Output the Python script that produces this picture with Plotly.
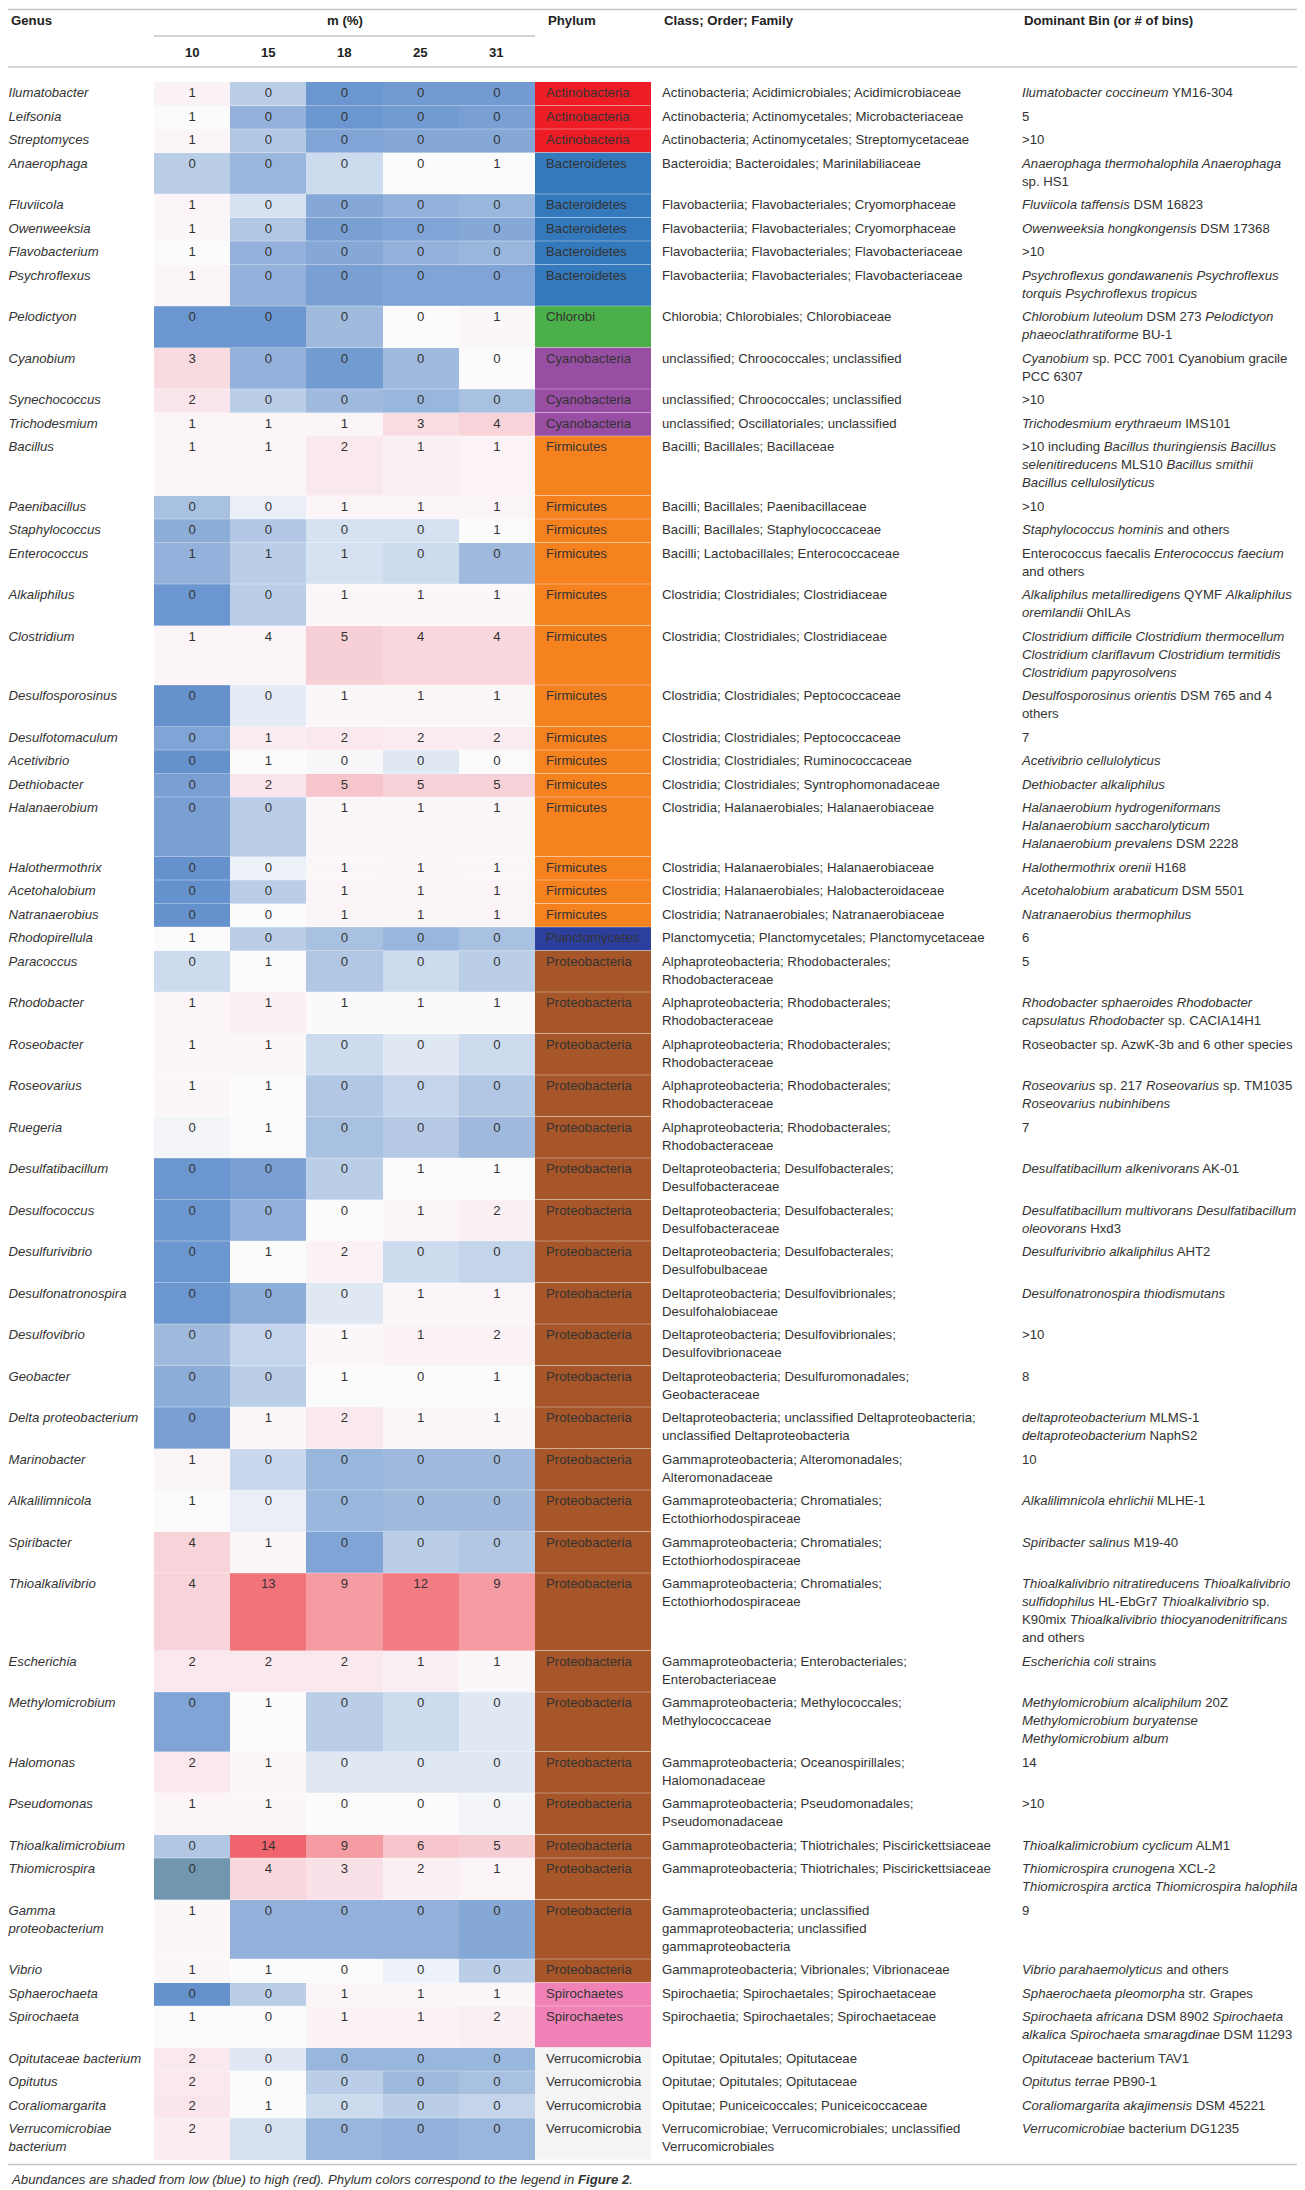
import plotly.graph_objects as go

# ---- data -------------------------------------------------------------
genus = ["Ilumatobacter", "Leifsonia", "Streptomyces", "Anaerophaga", "Fluviicola",
         "Owenweeksia", "Flavobacterium", "Psychroflexus", "Pelodictyon", "Cyanobium",
         "Synechococcus", "Trichodesmium", "Bacillus", "Paenibacillus", "Staphylococcus",
         "Enterococcus", "Alkaliphilus", "Clostridium", "Desulfosporosinus", "Desulfotomaculum",
         "Acetivibrio", "Dethiobacter", "Halanaerobium", "Halothermothrix", "Acetohalobium",
         "Natranaerobius", "Rhodopirellula", "Paracoccus", "Rhodobacter", "Roseobacter",
         "Roseovarius", "Ruegeria", "Desulfatibacillum", "Desulfococcus", "Desulfurivibrio",
         "Desulfonatronospira", "Desulfovibrio", "Geobacter", "Delta proteobacterium", "Marinobacter",
         "Alkalilimnicola", "Spiribacter", "Thioalkalivibrio", "Escherichia", "Methylomicrobium",
         "Halomonas", "Pseudomonas", "Thioalkalimicrobium", "Thiomicrospira", "Gamma\nproteobacterium",
         "Vibrio", "Sphaerochaeta", "Spirochaeta", "Opitutaceae bacterium", "Opitutus",
         "Coraliomargarita", "Verrucomicrobiae\nbacterium"]

m_labels = ["10", "15", "18", "25", "31"]

# abundance values (%) per m column
m10 = [1, 1, 1, 0, 1, 1, 1, 1, 0, 3, 2, 1, 1, 0, 0, 1, 0, 1, 0, 0,
       0, 0, 0, 0, 0, 0, 1, 0, 1, 1, 1, 0, 0, 0, 0, 0, 0, 0, 0, 1,
       1, 4, 4, 2, 0, 2, 1, 0, 0, 1, 1, 0, 1, 2, 2, 2, 2]
m15 = [0, 0, 0, 0, 0, 0, 0, 0, 0, 0, 0, 1, 1, 0, 0, 1, 0, 4, 0, 1,
       1, 2, 0, 0, 0, 0, 0, 1, 1, 1, 1, 1, 0, 0, 1, 0, 0, 0, 1, 0,
       0, 1, 13, 2, 1, 1, 1, 14, 4, 0, 1, 0, 0, 0, 0, 1, 0]
m18 = [0, 0, 0, 0, 0, 0, 0, 0, 0, 0, 0, 1, 2, 1, 0, 1, 1, 5, 1, 2,
       0, 5, 1, 1, 1, 1, 0, 0, 1, 0, 0, 0, 0, 0, 2, 0, 1, 1, 2, 0,
       0, 0, 9, 2, 0, 0, 0, 9, 3, 0, 0, 1, 1, 0, 0, 0, 0]
m25 = [0, 0, 0, 0, 0, 0, 0, 0, 0, 0, 0, 3, 1, 1, 0, 0, 1, 4, 1, 2,
       0, 5, 1, 1, 1, 1, 0, 0, 1, 0, 0, 0, 1, 1, 0, 1, 1, 0, 1, 0,
       0, 0, 12, 1, 0, 0, 0, 6, 2, 0, 0, 1, 1, 0, 0, 0, 0]
m31 = [0, 0, 0, 1, 0, 0, 0, 0, 1, 0, 0, 4, 1, 1, 1, 0, 1, 4, 1, 2,
       0, 5, 1, 1, 1, 1, 0, 0, 1, 0, 0, 0, 1, 2, 0, 1, 2, 1, 1, 0,
       0, 0, 9, 1, 0, 0, 0, 5, 1, 0, 0, 1, 2, 0, 0, 0, 0]

# shading (low = blue, high = red)
s10 = [0.05, 0.0, 0.03, -0.35, 0.03, 0.02, 0.0, 0.03, -0.9, 0.2,
       0.12, 0.03, 0.03, -0.45, -0.65, -0.6, -0.9, 0.03, -0.95, -0.75,
       -0.95, -0.8, -0.8, -0.95, -0.95, -0.95, 0.0, -0.25, 0.03, 0.02,
       0.02, -0.05, -0.9, -0.9, -0.9, -0.9, -0.5, -0.65, -0.8, 0.03,
       0.0, 0.25, 0.25, 0.1, -0.75, 0.1, 0.03, -0.4, -1.2, 0.02,
       0.02, -0.95, 0.0, 0.1, 0.1, 0.12, 0.08]
s15 = [-0.35, -0.6, -0.4, -0.55, -0.2, -0.4, -0.6, -0.6, -0.9, -0.6,
       -0.35, 0.03, 0.03, -0.1, -0.4, -0.35, -0.35, 0.03, -0.12, 0.08,
       0.0, 0.12, -0.35, -0.08, -0.35, 0.0, -0.35, 0.0, 0.06, 0.02,
       0.0, 0.0, -0.8, -0.6, 0.0, -0.65, -0.3, -0.35, 0.02, -0.27,
       -0.1, 0.02, 0.9, 0.1, 0.0, 0.02, 0.02, 1.0, 0.22, -0.6,
       0.0, -0.35, 0.0, -0.15, 0.0, 0.0, -0.2]
s18 = [-0.9, -0.9, -0.75, -0.25, -0.7, -0.8, -0.7, -0.8, -0.5, -0.85,
       -0.5, 0.03, 0.1, 0.03, -0.2, -0.2, 0.02, 0.28, 0.02, 0.1,
       -0.02, 0.35, 0.02, 0.02, 0.03, 0.03, -0.45, -0.4, 0.01, -0.25,
       -0.4, -0.45, -0.35, 0.0, 0.05, -0.15, 0.02, 0.0, 0.1, -0.55,
       -0.55, -0.75, 0.65, 0.1, -0.35, -0.15, 0.0, 0.65, 0.15, -0.6,
       0.0, 0.03, 0.05, -0.55, -0.35, -0.25, -0.55]
s25 = [-0.85, -0.85, -0.7, 0.0, -0.6, -0.75, -0.6, -0.75, 0.0, -0.5,
       -0.55, 0.18, 0.06, 0.03, -0.2, -0.25, 0.02, 0.22, 0.02, 0.08,
       -0.15, 0.27, 0.02, 0.03, 0.03, 0.03, -0.55, -0.25, 0.01, -0.15,
       -0.3, -0.38, 0.0, 0.03, -0.25, 0.02, 0.05, 0.0, 0.02, -0.5,
       -0.5, -0.35, 0.85, 0.06, -0.25, -0.15, 0.0, 0.35, 0.06, -0.6,
       -0.08, 0.02, 0.05, -0.55, -0.5, -0.35, -0.6]
s31 = [-0.85, -0.8, -0.7, 0.0, -0.55, -0.7, -0.55, -0.75, 0.02, 0.0,
       -0.45, 0.25, 0.04, 0.03, 0.0, -0.5, 0.02, 0.22, 0.02, 0.08,
       0.0, 0.27, 0.02, 0.02, 0.03, 0.03, -0.45, -0.35, 0.01, -0.25,
       -0.4, -0.5, 0.0, 0.06, -0.3, 0.03, 0.05, 0.0, 0.02, -0.5,
       -0.5, -0.4, 0.65, 0.02, -0.15, -0.15, -0.05, 0.3, 0.03, -0.7,
       -0.35, 0.02, 0.06, -0.55, -0.45, -0.3, -0.55]

phylum = (["Actinobacteria"] * 3 + ["Bacteroidetes"] * 5 + ["Chlorobi"] +
          ["Cyanobacteria"] * 3 + ["Firmicutes"] * 14 + ["Planctomycetes"] +
          ["Proteobacteria"] * 24 + ["Spirochaetes"] * 2 + ["Verrucomicrobia"] * 4)

phylum_colors = {
    "Actinobacteria": "#ee1c25", "Bacteroidetes": "#3479bb", "Chlorobi": "#4bb04a",
    "Cyanobacteria": "#984ea3", "Firmicutes": "#f6821f", "Planctomycetes": "#2d3f9d",
    "Proteobacteria": "#a65628", "Spirochaetes": "#f082b8", "Verrucomicrobia": "#f4f4f4",
}

alpha = "Alphaproteobacteria; Rhodobacterales;\nRhodobacteraceae"
chrom = "Gammaproteobacteria; Chromatiales;\nEctothiorhodospiraceae"
class_order_family = [
    "Actinobacteria; Acidimicrobiales; Acidimicrobiaceae",
    "Actinobacteria; Actinomycetales; Microbacteriaceae",
    "Actinobacteria; Actinomycetales; Streptomycetaceae",
    "Bacteroidia; Bacteroidales; Marinilabiliaceae",
    "Flavobacteriia; Flavobacteriales; Cryomorphaceae",
    "Flavobacteriia; Flavobacteriales; Cryomorphaceae",
    "Flavobacteriia; Flavobacteriales; Flavobacteriaceae",
    "Flavobacteriia; Flavobacteriales; Flavobacteriaceae",
    "Chlorobia; Chlorobiales; Chlorobiaceae",
    "unclassified; Chroococcales; unclassified",
    "unclassified; Chroococcales; unclassified",
    "unclassified; Oscillatoriales; unclassified",
    "Bacilli; Bacillales; Bacillaceae",
    "Bacilli; Bacillales; Paenibacillaceae",
    "Bacilli; Bacillales; Staphylococcaceae",
    "Bacilli; Lactobacillales; Enterococcaceae",
    "Clostridia; Clostridiales; Clostridiaceae",
    "Clostridia; Clostridiales; Clostridiaceae",
    "Clostridia; Clostridiales; Peptococcaceae",
    "Clostridia; Clostridiales; Peptococcaceae",
    "Clostridia; Clostridiales; Ruminococcaceae",
    "Clostridia; Clostridiales; Syntrophomonadaceae",
    "Clostridia; Halanaerobiales; Halanaerobiaceae",
    "Clostridia; Halanaerobiales; Halanaerobiaceae",
    "Clostridia; Halanaerobiales; Halobacteroidaceae",
    "Clostridia; Natranaerobiales; Natranaerobiaceae",
    "Planctomycetia; Planctomycetales; Planctomycetaceae",
    alpha, alpha, alpha, alpha, alpha,
    "Deltaproteobacteria; Desulfobacterales;\nDesulfobacteraceae",
    "Deltaproteobacteria; Desulfobacterales;\nDesulfobacteraceae",
    "Deltaproteobacteria; Desulfobacterales;\nDesulfobulbaceae",
    "Deltaproteobacteria; Desulfovibrionales;\nDesulfohalobiaceae",
    "Deltaproteobacteria; Desulfovibrionales;\nDesulfovibrionaceae",
    "Deltaproteobacteria; Desulfuromonadales;\nGeobacteraceae",
    "Deltaproteobacteria; unclassified Deltaproteobacteria;\nunclassified Deltaproteobacteria",
    "Gammaproteobacteria; Alteromonadales;\nAlteromonadaceae",
    chrom, chrom, chrom,
    "Gammaproteobacteria; Enterobacteriales;\nEnterobacteriaceae",
    "Gammaproteobacteria; Methylococcales;\nMethylococcaceae",
    "Gammaproteobacteria; Oceanospirillales;\nHalomonadaceae",
    "Gammaproteobacteria; Pseudomonadales;\nPseudomonadaceae",
    "Gammaproteobacteria; Thiotrichales; Piscirickettsiaceae",
    "Gammaproteobacteria; Thiotrichales; Piscirickettsiaceae",
    "Gammaproteobacteria; unclassified\ngammaproteobacteria; unclassified\ngammaproteobacteria",
    "Gammaproteobacteria; Vibrionales; Vibrionaceae",
    "Spirochaetia; Spirochaetales; Spirochaetaceae",
    "Spirochaetia; Spirochaetales; Spirochaetaceae",
    "Opitutae; Opitutales; Opitutaceae",
    "Opitutae; Opitutales; Opitutaceae",
    "Opitutae; Puniceicoccales; Puniceicoccaceae",
    "Verrucomicrobiae; Verrucomicrobiales; unclassified\nVerrucomicrobiales",
]

dominant_bin = [
    "<i>Ilumatobacter coccineum</i> YM16-304",
    "5",
    ">10",
    "<i>Anaerophaga thermohalophila Anaerophaga</i>\nsp. HS1",
    "<i>Fluviicola taffensis</i> DSM 16823",
    "<i>Owenweeksia hongkongensis</i> DSM 17368",
    ">10",
    "<i>Psychroflexus gondawanenis Psychroflexus</i>\n<i>torquis Psychroflexus tropicus</i>",
    "<i>Chlorobium luteolum</i> DSM 273 <i>Pelodictyon</i>\n<i>phaeoclathratiforme</i> BU-1",
    "<i>Cyanobium</i> sp. PCC 7001 Cyanobium gracile\nPCC 6307",
    ">10",
    "<i>Trichodesmium erythraeum</i> IMS101",
    ">10 including <i>Bacillus thuringiensis Bacillus</i>\n<i>selenitireducens</i> MLS10 <i>Bacillus smithii</i>\n<i>Bacillus cellulosilyticus</i>",
    ">10",
    "<i>Staphylococcus hominis</i> and others",
    "Enterococcus faecalis <i>Enterococcus faecium</i>\nand others",
    "<i>Alkaliphilus metalliredigens</i> QYMF <i>Alkaliphilus</i>\n<i>oremlandii</i> OhILAs",
    "<i>Clostridium difficile Clostridium thermocellum</i>\n<i>Clostridium clariflavum Clostridium termitidis</i>\n<i>Clostridium papyrosolvens</i>",
    "<i>Desulfosporosinus orientis</i> DSM 765 and 4\nothers",
    "7",
    "<i>Acetivibrio cellulolyticus</i>",
    "<i>Dethiobacter alkaliphilus</i>",
    "<i>Halanaerobium hydrogeniformans</i>\n<i>Halanaerobium saccharolyticum</i>\n<i>Halanaerobium prevalens</i> DSM 2228",
    "<i>Halothermothrix orenii</i> H168",
    "<i>Acetohalobium arabaticum</i> DSM 5501",
    "<i>Natranaerobius thermophilus</i>",
    "6",
    "5",
    "<i>Rhodobacter sphaeroides Rhodobacter</i>\n<i>capsulatus Rhodobacter</i> sp. CACIA14H1",
    "Roseobacter sp. AzwK-3b and 6 other species",
    "<i>Roseovarius</i> sp. 217 <i>Roseovarius</i> sp. TM1035\n<i>Roseovarius nubinhibens</i>",
    "7",
    "<i>Desulfatibacillum alkenivorans</i> AK-01",
    "<i>Desulfatibacillum multivorans Desulfatibacillum</i>\n<i>oleovorans</i> Hxd3",
    "<i>Desulfurivibrio alkaliphilus</i> AHT2",
    "<i>Desulfonatronospira thiodismutans</i>",
    ">10",
    "8",
    "<i>deltaproteobacterium</i> MLMS-1\n<i>deltaproteobacterium</i> NaphS2",
    "10",
    "<i>Alkalilimnicola ehrlichii</i> MLHE-1",
    "<i>Spiribacter salinus</i> M19-40",
    "<i>Thioalkalivibrio nitratireducens Thioalkalivibrio</i>\n<i>sulfidophilus</i> HL-EbGr7 <i>Thioalkalivibrio</i> sp.\nK90mix <i>Thioalkalivibrio thiocyanodenitrificans</i>\nand others",
    "<i>Escherichia coli</i> strains",
    "<i>Methylomicrobium alcaliphilum</i> 20Z\n<i>Methylomicrobium buryatense</i>\n<i>Methylomicrobium album</i>",
    "14",
    ">10",
    "<i>Thioalkalimicrobium cyclicum</i> ALM1",
    "<i>Thiomicrospira crunogena</i> XCL-2\n<i>Thiomicrospira arctica Thiomicrospira halophila</i>",
    "9",
    "<i>Vibrio parahaemolyticus</i> and others",
    "<i>Sphaerochaeta pleomorpha</i> str. Grapes",
    "<i>Spirochaeta africana</i> DSM 8902 <i>Spirochaeta</i>\n<i>alkalica Spirochaeta smaragdinae</i> DSM 11293",
    "<i>Opitutaceae</i> bacterium TAV1",
    "<i>Opitutus terrae</i> PB90-1",
    "<i>Coraliomargarita akajimensis</i> DSM 45221",
    "<i>Verrucomicrobiae</i> bacterium DG1235",
]

footnote = ("<i>Abundances are shaded from low (blue) to high (red). Phylum colors "
            "correspond to the legend in <b>Figure 2</b>.</i>")

# ---- layout constants -------------------------------------------------
# the page body has an 8px margin, so the figure is drawn 8px smaller and
# the axes run in page pixels from 8 to the window edge
W, H = 1305, 2190
OFF = 8
FONT = "Liberation Sans, Arial, Helvetica, sans-serif"
TXT = "#333333"
FS = 13.2
RULE = "#c6c6c6"

body_top = 82
line_h = 18.0
pad = 5.5
first_off = pad / 2 + line_h / 2

x_genus = 8.5
x_val0, col_w = 154, 76.2
x_phy0, x_phy1 = x_val0 + 5 * col_w, 651
x_phy_txt = 546
x_class = 662
x_bin = 1022

values = [m10, m15, m18, m25, m31]
shades = [s10, s15, s18, s25, s31]
n = len(genus)

# row heights follow the number of wrapped lines in the row
n_lines = [max(len(genus[i].split("\n")), len(class_order_family[i].split("\n")),
               len(dominant_bin[i].split("\n"))) for i in range(n)]
edges = [body_top]
for k in n_lines:
    edges.append(edges[-1] + pad + k * line_h)

col_edges = [x_val0 + j * col_w for j in range(6)]
col_mid = [x_val0 + (j + 0.5) * col_w for j in range(5)]

z = [[shades[j][i] for j in range(5)] for i in range(n)]

zmin, zmax = -1.2, 1.0


def nz(v):
    return (v - zmin) / (zmax - zmin)


colorscale = [
    [0.0, "rgb(112,150,176)"],
    [nz(-1.08), "rgb(84,134,200)"],
    [nz(-0.5), "rgb(160,186,222)"],
    [nz(-0.2), "rgb(214,225,241)"],
    [nz(0.0), "rgb(252,251,252)"],
    [nz(0.1), "rgb(249,232,237)"],
    [nz(0.3), "rgb(247,205,212)"],
    [nz(0.65), "rgb(245,155,162)"],
    [1.0, "rgb(240,100,110)"],
]

fig = go.Figure()

fig.add_trace(go.Heatmap(
    z=z, x=col_edges, y=edges, zmin=zmin, zmax=zmax,
    colorscale=colorscale, showscale=False, hoverinfo="skip",
))


def line_points(texts, x0, italic=False):
    xs, ys, ts = [], [], []
    for i, t in enumerate(texts):
        for k, ln in enumerate(t.split("\n")):
            xs.append(x0)
            ys.append(edges[i] + first_off + k * line_h)
            ts.append("<i>%s</i>" % ln if italic else ln)
    return xs, ys, ts


def text_trace(xs, ys, ts, pos="middle right"):
    return go.Scatter(x=xs, y=ys, text=ts, mode="text", textposition=pos,
                      textfont=dict(family=FONT, size=FS, color=TXT),
                      hoverinfo="skip", showlegend=False, cliponaxis=False)


# phylum colour blocks
for i, p in enumerate(phylum):
    fig.add_shape(type="rect", xref="x", yref="y", x0=x_phy0, x1=x_phy1,
                  y0=edges[i], y1=edges[i + 1], line_width=0,
                  fillcolor=phylum_colors[p], layer="below")

# faint row separators inside the shaded block
for e in edges[1:-1]:
    fig.add_shape(type="line", xref="x", yref="y", x0=x_val0, x1=x_phy1, y0=e, y1=e,
                  line=dict(color="rgba(255,255,255,0.35)", width=1))

fig.add_trace(text_trace(*line_points(genus, x_genus, italic=True)))

vx, vy, vt = [], [], []
for j in range(5):
    for i in range(n):
        vx.append(col_mid[j])
        vy.append(edges[i] + first_off)
        vt.append(str(values[j][i]))
fig.add_trace(text_trace(vx, vy, vt, pos="middle center"))

fig.add_trace(text_trace([x_phy_txt] * n, [e + first_off for e in edges[:-1]], phylum))
fig.add_trace(text_trace(*line_points(class_order_family, x_class)))
fig.add_trace(text_trace(*line_points(dominant_bin, x_bin)))

# header
hdr_y, sub_y = 20, 52
rules = [(OFF, W, OFF + 1.5), (OFF, W, 67), (x_val0, x_phy0, 36), (OFF, W, edges[-1] + 5)]
for a, b, y in rules:
    fig.add_shape(type="line", xref="x", yref="y", x0=a, x1=b, y0=y, y1=y,
                  line=dict(color=RULE, width=1.6))

heads = [("Genus", x_genus, "left"), ("Phylum", x_phy_txt, "left"),
         ("Class; Order; Family", x_class, "left"),
         ("Dominant Bin (or # of bins)", x_bin, "left"),
         ("m (%)", (x_val0 + x_phy0) / 2, "center")]
for t, x, anchor in heads:
    fig.add_annotation(x=x, y=hdr_y, text="<b>%s</b>" % t, showarrow=False,
                       xanchor=anchor, yanchor="middle", xref="x", yref="y",
                       font=dict(family=FONT, size=FS, color="#222222"))
for j, lab in enumerate(m_labels):
    fig.add_annotation(x=col_mid[j], y=sub_y, text="<b>%s</b>" % lab, showarrow=False,
                       xanchor="center", yanchor="middle", xref="x", yref="y",
                       font=dict(family=FONT, size=FS, color="#222222"))

fig.add_annotation(x=x_genus, y=edges[-1] + 20, text=footnote, showarrow=False,
                   xanchor="left", yanchor="middle", xref="x", yref="y",
                   font=dict(family=FONT, size=FS, color=TXT))

fig.update_layout(
    width=W - OFF, height=H - OFF, autosize=False,
    margin=dict(l=0, r=0, t=0, b=0, pad=0),
    paper_bgcolor="white", plot_bgcolor="white",
    xaxis=dict(range=[OFF, W], visible=False, fixedrange=True),
    yaxis=dict(range=[H, OFF], visible=False, fixedrange=True),
    showlegend=False,
)

fig.write_html("out.html")
